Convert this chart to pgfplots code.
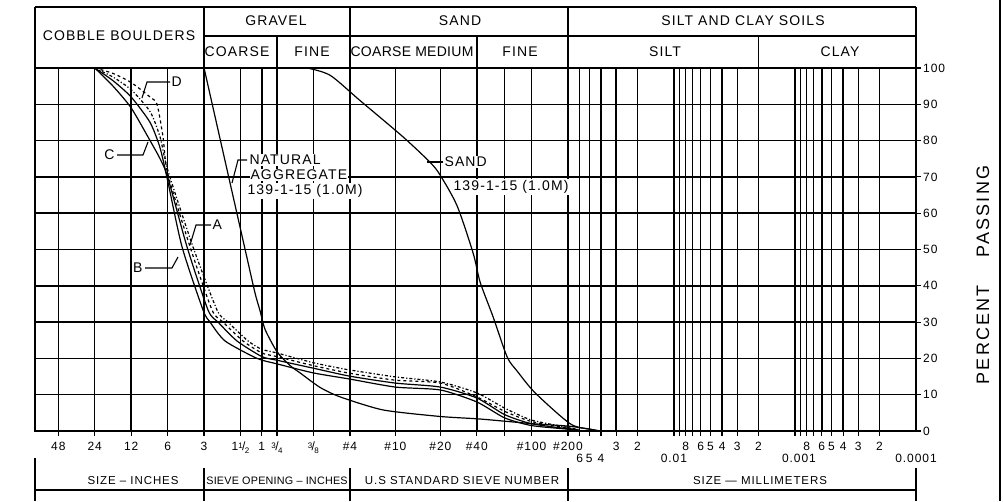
\documentclass[border=0pt]{standalone}
\usepackage{pgfplots}
\pgfplotsset{compat=1.18}
\usepackage{fontspec}
\setmainfont{Liberation Sans}
\newfontfamily\lr[LetterSpace=8]{Liberation Sans}
\newfontfamily\lrn[LetterSpace=2]{Liberation Sans}
\newfontfamily\lrw[LetterSpace=12]{Liberation Sans}
\newcommand\hd{\fontsize{14}{16}\selectfont\lr}
\newcommand\sm{\fontsize{11.5}{13}\selectfont\lr}
\newcommand\tk{\fontsize{12}{14}\selectfont\lr}
\newcommand\fr[2]{\raisebox{0.45ex}{\fontsize{8}{9}\selectfont#1}\kern-0.05em/\kern-0.05em\raisebox{-0.35ex}{\fontsize{8}{9}\selectfont#2}}
\begin{document}
\begin{tikzpicture}[x=1pt,y=1pt]
\begin{axis}[
  at={(35pt,70pt)}, anchor=south west,
  scale only axis, width=881pt, height=363pt,
  xmode=log, x dir=reverse, xmin=0.0001, xmax=1900,
  ymin=0, ymax=100, clip=false,
  axis line style={line width=1.5pt},
  grid=major, major grid style={black, line width=1.4pt},
  minor xtick={},
  tick style={black, line width=1.2pt},
  major tick length=5pt, tick align=outside,
  xtick pos=bottom, ytick pos=right,
  xtick={1219.2,609.6,304.8,152.4,76.2,38.1,25.4,19.05,9.525,4.75,2.0,0.85,0.425,0.25,0.15,0.075,0.06,0.05,0.04,0.03,0.02,0.01,0.009,0.008,0.007,0.006,0.005,0.004,0.003,0.002,0.001,0.0009,0.0008,0.0007,0.0006,0.0005,0.0004,0.0003,0.0002},
  xticklabels={48,24,12,6,3,1\fr12,1,\fr34,\fr38,\#4,\#10,\#20,\#40,,\#100,\#200,,,,3,2,,,8,,6,5,4,3,2,,,8,,6,5,4,3,2},
  xticklabel style={font=\tk, anchor=north, inner sep=1pt, yshift=-5pt},
  extra x ticks={0.06,0.05,0.04,0.01,0.001,0.0001},
  extra x tick labels={6,5,4,0.01\hspace{10pt},\hspace{8pt}0.001,0.0001},
  extra x tick style={grid=none, major tick length=0pt, xticklabel style={yshift=-17pt}},
  ytick={0,10,...,100},
  yticklabel style={font=\tk, anchor=west, inner sep=1pt, xshift=1pt},
  /pgf/number format/assume math mode=true,
]
% Natural aggregate 139-1-15 (1.0M)
\addplot[black, line width=1.2pt, smooth, tension=0.4] coordinates {
(76.2,100) (51.1,74.4) (34.9,50) (28.9,38) (26.2,33) (23.9,28) (19.0,21.8) (14.8,18) (12.26,16) (8.38,12) (5.73,9.4) (2.53,5.8) (0.854,4.0) (0.399,3.3) (0.1455,2.0) (0.072,1.3) (0.0406,0)};
% Sand 139-1-15 (1.0M)
\addplot[black, line width=1.2pt, smooth, tension=0.45] coordinates {
(10.73,100) (6.93,98) (3.91,91) (1.727,81) (1.033,74) (0.854,70.5) (0.618,62) (0.456,49) (0.399,41) (0.3115,31.4) (0.2387,20.4) (0.1973,16.5) (0.1401,10.5) (0.072,2) (0.0492,0.5) (0.0406,0)};
% C
\addplot[black, line width=1.2pt, smooth, tension=0.4] coordinates {
(609.6,100) (430.5,95) (304.8,89) (212.8,80) (176,75) (152.4,70) (105.3,50.7) (70.6,33.3) (58.4,30) (40.7,24.8) (25.4,20.5) (19.05,19.5) (9.525,17.3) (4.75,15.1) (2.0,13.2) (0.85,12.1) (0.425,9.1) (0.25,4.5) (0.15,2.0) (0.075,0.6) (0.06,0.2)};
% D
\addplot[black, line width=1.2pt, dashed, smooth, tension=0.4] coordinates {
(609.6,100) (430.5,98.5) (304.8,96) (212.8,92) (186.4,90) (166.3,81) (152.4,71) (99.4,50.7) (65.4,33.3) (53.1,30) (36.3,24.8) (25.4,21.5) (19.05,20.5) (9.525,18) (4.75,15.9) (2.0,14) (0.85,13.2) (0.425,9.4) (0.25,5.4) (0.15,2.6) (0.075,0.8) (0.06,0.3)};
% A
\addplot[black, line width=1.2pt, dash dot, smooth, tension=0.4] coordinates {
(609.6,100) (430.5,97.5) (304.8,94) (212.8,88) (176,81) (152.4,72) (94.0,50.7) (59.5,33.3) (48.3,30) (33.0,24.8) (25.4,22.5) (19.05,21.5) (9.525,18.8) (5.73,17.3) (4.75,16.8) (2.0,14.9) (0.85,13.5) (0.425,10.5) (0.25,6.3) (0.15,3.0) (0.075,1.0) (0.06,0.3)};
% B
\addplot[black, line width=1.2pt, smooth, tension=0.4] coordinates {
(609.6,100) (430.5,96.5) (304.8,92) (212.8,85) (176,78) (152.4,69) (115.8,50.7) (77.65,33.3) (68.0,30) (51.1,24.8) (27.8,20) (19.05,18.5) (9.525,16) (4.75,14.3) (2.0,12.1) (0.85,11.3) (0.425,8) (0.25,3.6) (0.15,1.5) (0.075,0.5) (0.06,0.1)};
\coordinate (c3) at (axis cs:76.2,100);
\coordinate (c34) at (axis cs:19.05,100);
\coordinate (c4) at (axis cs:4.75,100);
\coordinate (c40) at (axis cs:0.425,100);
\coordinate (c200) at (axis cs:0.075,100);
\coordinate (c002) at (axis cs:0.002,100);
\end{axis}
% header table
\begin{scope}[line width=1.5pt]
\draw (35,494) -- (916,494);
\draw (c3 |- 0,465) -- (916,465);
\draw (35,433) -- (35,494);
\draw (c3) -- (c3 |- 0,494);
\draw (c4) -- (c4 |- 0,494);
\draw (c200) -- (c200 |- 0,494);
\draw (916,433) -- (916,494);
\draw (c34) -- (c34 |- 0,465);
\draw (c40) -- (c40 |- 0,465);
\draw (c002) -- (c002 |- 0,465);
% bottom table
\draw (35,43) -- (35,0);
\draw (c3 |- 0,33) -- (c3 |- 0,0);
\draw (c4 |- 0,33) -- (c4 |- 0,0);
\draw (c200 |- 0,33) -- (c200 |- 0,0);
\draw (916,33) -- (916,0);
\draw (35,11) -- (916,11);
\draw (1000,0) -- (1000,501);
\end{scope}
\node[font=\hd] at (119,465) {COBBLE BOULDERS};
\node[font=\hd] at (276,480) {GRAVEL};
\node[font=\hd] at (237,449) {COARSE};
\node[font=\hd] at (312,449) {FINE};
\node[font=\hd] at (460,480) {SAND};
\node[font=\fontsize{14}{16}\selectfont\lrn] at (412,449) {COARSE MEDIUM};
\node[font=\hd] at (520,449) {FINE};
\node[font=\hd] at (743,480) {SILT AND CLAY SOILS};
\node[font=\hd] at (665,449) {SILT};
\node[font=\hd] at (840,449) {CLAY};
\node[font=\sm] at (133,20) {SIZE – INCHES};
\node[font=\fontsize{10.8}{12}\selectfont\lrn] at (277,20) {SIEVE OPENING – INCHES};
\node[font=\sm] at (462,20) {U.S STANDARD SIEVE NUMBER};
\node[font=\sm] at (760,20) {SIZE — MILLIMETERS};
\node[font=\fontsize{18}{20}\selectfont\lrw, rotate=90] at (983,226) {PERCENT\hspace{28pt}PASSING};
% curve labels
\begin{scope}[line width=1.1pt]
\draw (142,403) -- (147,419) -- (170,419);
\node[font=\hd, anchor=west, inner sep=1pt] at (170,419) {D};
\draw (117,346) -- (143,346) -- (148,359);
\node[font=\hd, anchor=east, inner sep=1pt] at (116,346) {C};
\draw (211,276) -- (196,276) -- (190,256);
\node[font=\hd, anchor=west, inner sep=1pt] at (211,276) {A};
\draw (145,233) -- (172,233) -- (178,244);
\node[font=\hd, anchor=east, inner sep=1pt] at (144,233) {B};
\draw (232,318) -- (238,341) -- (247,341);
\node[font=\hd, anchor=west, fill=white, inner sep=1pt] at (248,341) {NATURAL};
\node[font=\hd, anchor=west, fill=white, inner sep=1pt] at (249,326) {AGGREGATE};
\node[font=\hd, anchor=west, fill=white, inner sep=1pt] at (246,310) {139-1-15 (1.0M)};
\draw (427,339) -- (443,339);
\node[font=\hd, anchor=west, fill=white, inner sep=1pt] at (443,339) {SAND};
\node[font=\hd, anchor=west, fill=white, inner sep=1pt] at (452,314) {139-1-15 (1.0M)};
\end{scope}
\pgfresetboundingbox
\path[use as bounding box] (0,0) rectangle (1003,501);
\end{tikzpicture}
\end{document}
